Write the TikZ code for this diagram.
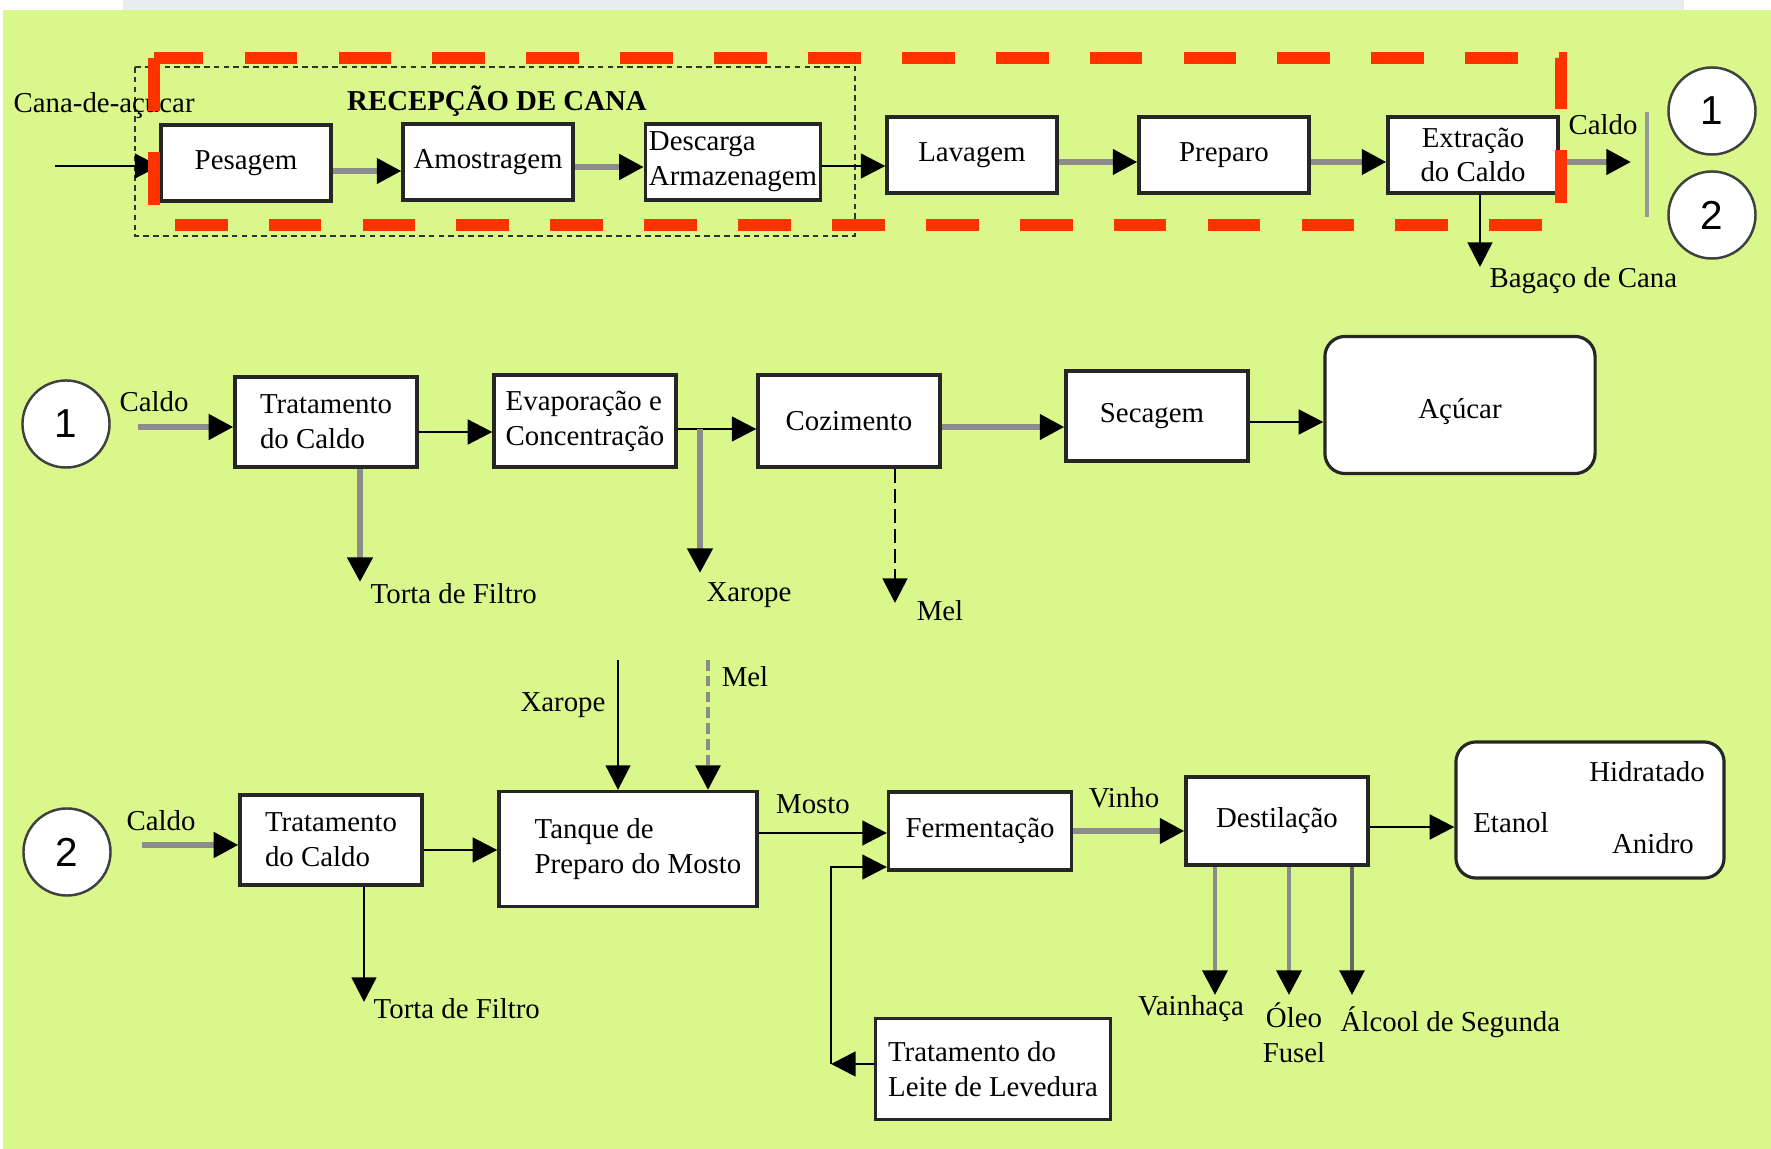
\documentclass[tikz,border=0pt]{standalone}
\usepackage{fontspec}
\setmainfont{Liberation Serif}
\newfontfamily\fontecirculo{Liberation Sans}
\usepackage{xcolor}
\usepackage{tikz}
\usetikzlibrary{arrows.meta, positioning}

\definecolor{fundo}{RGB}{218,247,139}
\definecolor{vermelho}{RGB}{255,51,0}
\definecolor{faixa}{RGB}{234,237,237}

\begin{document}
\begin{tikzpicture}[
    x=0.01cm, y=-0.01cm,
    every node/.style={font=\fontsize{8.2}{9.9}\selectfont},
    etapa/.style={
        rectangle,
        draw=black!85,
        line width=0.9pt,
        fill=white,
        inner sep=1pt,
        minimum width=1.70cm,
        minimum height=0.76cm,
        align=center
    },
    etapalarga/.style={
        etapa,
        minimum width=1.82cm,
        minimum height=0.90cm
    },
    produto/.style={
        etapa,
        rounded corners=5.7pt
    },
    circulo/.style={
        circle,
        draw=black!75,
        line width=0.7pt,
        fill=white,
        minimum size=0.87cm,
        inner sep=0pt,
        font=\fontecirculo\fontsize{11.5}{12}\selectfont
    },
    rotulo/.style={inner sep=0pt},
    seta/.style={
        -{Triangle[length=7pt, width=7pt, color=black, fill=black]},
        draw=black,
        line width=0.8pt
    },
    setacinza/.style={seta, draw=black!45, line width=1.6pt},
    setamel/.style={seta, dash pattern=on 4pt off 1.7pt}
]

% fundo
\useasboundingbox (0,0) rectangle (1771,1149);
\fill[white] (0,0) rectangle (1771,1149);
\fill[faixa] (123,0) rectangle (1684,10);
\fill[fundo] (3,10) rectangle (1771,1149);

% recepcao de cana
\draw[black!80, line width=0.6pt, dash pattern=on 1.6pt off 1.2pt] (135,67) rectangle (855,236);
\node[rotulo, font=\fontsize{8.2}{9.9}\selectfont\bfseries] (recepcao) at (497,101) {RECEPÇÃO DE CANA};

% linha 1
\node[rotulo, anchor=west] (cana) at (13,106) {Cana-de-açúcar};
\node[etapa] (pesagem) at (246,163) {Pesagem};
\node[etapa] (amostragem) at (488,162) {Amostragem};
\node[etapa, align=left] (descarga) at (733,162) {Descarga\\Armazenagem};
\node[etapa] (lavagem) at (972,155) {Lavagem};
\node[etapa] (preparo) at (1224,155) {Preparo};
\node[etapa] (extracao) at (1473,155) {Extração\\do Caldo};
\node[rotulo] (caldotopo) at (1603,125) {Caldo};
\node[rotulo, anchor=west] (bagaco) at (1489,281) {Bagaço de Cana};
\node[circulo] (um) at (1712,111) {1};
\node[circulo] (dois) at (1712,215) {2};

\coordinate (entrada) at (55,166);
\coordinate (saida) at (1631,162);
\coordinate (bagacoseta) at (1480,267);

\draw[seta] (entrada) -- (entrada -| pesagem.west);
\draw[setacinza] ([yshift=-0.08cm]pesagem.east) -- ([yshift=-0.08cm]pesagem.east -| amostragem.west);
\draw[setacinza] ([yshift=-0.05cm]amostragem.east) -- ([yshift=-0.05cm]amostragem.east -| descarga.west);
\draw[seta] ([yshift=-0.04cm]descarga.east) -- ([yshift=-0.04cm]descarga.east -| lavagem.west);
\draw[setacinza] ([yshift=-0.07cm]lavagem.east) -- ([yshift=-0.07cm]lavagem.east -| preparo.west);
\draw[setacinza] ([yshift=-0.07cm]preparo.east) -- ([yshift=-0.07cm]preparo.east -| extracao.west);
\draw[setacinza] (extracao.east |- saida) -- (saida);
\draw[seta] (extracao.south -| bagacoseta) -- (bagacoseta);
\draw[black!40, line width=1.2pt] (1647,112) -- (1647,217);

\draw[vermelho, line width=3.4pt, dash pattern=on 15pt off 11.7pt] (154,58) rectangle (1561,225);

% linha 2
\node[circulo] (um2) at (66,424) {1};
\node[rotulo] (caldo1) at (154,402) {Caldo};
\node[etapalarga, align=left] (trat1) at (326,422) {Tratamento\\do Caldo};
\node[etapalarga, minimum height=0.92cm, align=left] (evap) at (585,421) {Evaporação e\\Concentração};
\node[etapalarga, minimum height=0.92cm] (cozimento) at (849,421) {Cozimento};
\node[etapalarga] (secagem) at (1157,416) {Secagem\hspace*{0.1cm}};
\node[produto, minimum width=2.70cm, minimum height=1.37cm] (acucar) at (1460,405) {\raisebox{-0.07cm}[\height][\depth]{Açúcar}};
\node[rotulo, anchor=west] (torta1) at (370,594) {Torta de Filtro};
\node[rotulo] (xarope1) at (749,595) {Xarope};
\node[rotulo] (mel1) at (940,611) {Mel};

\coordinate (entrada1) at (138,427);
\coordinate (desvio1) at (700,429);
\coordinate (xarope1seta) at (700,573);
\coordinate (torta1seta) at (360,582);
\coordinate (mel1seta) at (895,603);

\draw[setacinza] (entrada1) -- (entrada1 -| trat1.west);
\draw[seta] ([yshift=-0.1cm]trat1.east) -- ([yshift=-0.1cm]trat1.east -| evap.west);
\draw[seta] (evap.east |- desvio1) -- (desvio1 -| cozimento.west);
\draw[setacinza] (desvio1) -- (xarope1seta);
\draw[setacinza] (trat1.south -| torta1seta) -- (torta1seta);
\draw[setamel] (cozimento.south -| mel1seta) -- (mel1seta);
\draw[setacinza] ([yshift=-0.06cm]cozimento.east) -- ([yshift=-0.06cm]cozimento.east -| secagem.west);
\draw[seta] ([yshift=-0.06cm]secagem.east) -- ([yshift=-0.06cm]secagem.east -| acucar.west);

% linha 3
\node[circulo] (dois2) at (67,852) {2};
\node[rotulo] (caldo2) at (161,821) {Caldo};
\node[etapalarga, align=left] (trat2) at (331,840) {Tratamento\\do Caldo};
\node[etapa, minimum width=2.58cm, minimum height=1.15cm, align=left] (tanque) at (628,849) {\hspace*{0.2cm}Tanque de\\\hspace*{0.2cm}Preparo do Mosto};
\node[etapalarga, minimum width=1.83cm, minimum height=0.78cm] (fermentacao) at (980,831) {Fermentação};
\node[etapalarga, minimum height=0.88cm] (destilacao) at (1277,821) {Destilação};
\node[produto, minimum width=2.68cm, minimum height=1.36cm] (etanol) at (1590,810) {};
\node[etapa, minimum width=2.35cm, minimum height=1.01cm, align=left] (leite) at (993,1069) {Tratamento do\\Leite de Levedura};
\node[rotulo, anchor=west] (torta2) at (373,1009) {Torta de Filtro};
\node[rotulo] (xarope2) at (563,705) {Xarope};
\node[rotulo] (mel2) at (745,677) {Mel};
\node[rotulo] (mosto) at (813,804) {Mosto};
\node[rotulo] (vinho) at (1124,798) {Vinho};
\node[rotulo] (hidratado) at (1647,772) {Hidratado};
\node[rotulo] (etanoltxt) at (1511,823) {Etanol};
\node[rotulo] (anidro) at (1653,844) {Anidro};
\node[rotulo] (vinhaca) at (1191,1009) {Vainhaça};
\node[rotulo, align=center] (oleo) at (1294,1033) {Óleo\\Fusel};
\node[rotulo, anchor=west] (alcool) at (1340,1022) {Álcool de Segunda};

\coordinate (entrada2) at (142,845);
\coordinate (torta2seta) at (364,1002);
\coordinate (xarope2ini) at (618,660);
\coordinate (mel2ini) at (708,660);
\coordinate (retorno) at (831,1064);
\coordinate (vinhacaseta) at (1215,995);
\coordinate (oleoseta) at (1289,995);
\coordinate (alcoolseta) at (1352,995);

\draw[setacinza] (entrada2) -- (entrada2 -| trat2.west);
\draw[seta] ([yshift=-0.1cm]trat2.east) -- ([yshift=-0.1cm]trat2.east -| tanque.west);
\draw[seta] (trat2.south -| torta2seta) -- (torta2seta);
\draw[seta] (xarope2ini) -- (xarope2ini |- tanque.north);
\draw[setamel, draw=black!45, line width=1.2pt, dash pattern=on 3pt off 1.5pt] (mel2ini) -- (mel2ini |- tanque.north);
\draw[seta] ([yshift=0.16cm]tanque.east) -- ([yshift=0.16cm]tanque.east -| fermentacao.west);
\draw[seta] (leite.west |- retorno) -- (retorno);
\draw[seta] (retorno) |- ([yshift=-0.36cm]fermentacao.west);
\draw[setacinza] (fermentacao.east) -- (fermentacao.east -| destilacao.west);
\draw[seta] ([yshift=-0.06cm]destilacao.east) -- ([yshift=-0.06cm]destilacao.east -| etanol.west);
\draw[setacinza, line width=1.3pt] (destilacao.south -| vinhacaseta) -- (vinhacaseta);
\draw[setacinza, line width=1.3pt] (destilacao.south -| oleoseta) -- (oleoseta);
\draw[setacinza, draw=black!60, line width=1.1pt] (destilacao.south -| alcoolseta) -- (alcoolseta);

\end{tikzpicture}
\end{document}
